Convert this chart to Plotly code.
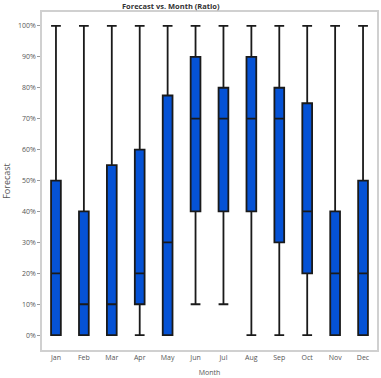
import plotly.graph_objects as go

months = ["Jan", "Feb", "Mar", "Apr", "May", "Jun", "Jul", "Aug", "Sep", "Oct", "Nov", "Dec"]
lower = [0, 0, 0, 0, 0, 0.10, 0.10, 0, 0, 0, 0, 0]
q1 = [0, 0, 0, 0.10, 0, 0.40, 0.40, 0.40, 0.30, 0.20, 0, 0]
median = [0.20, 0.10, 0.10, 0.20, 0.30, 0.70, 0.70, 0.70, 0.70, 0.40, 0.20, 0.20]
q3 = [0.50, 0.40, 0.55, 0.60, 0.775, 0.90, 0.80, 0.90, 0.80, 0.75, 0.40, 0.50]
upper = [1, 1, 1, 1, 1, 1, 1, 1, 1, 1, 1, 1]
yticks = [0, 0.1, 0.2, 0.3, 0.4, 0.5, 0.6, 0.7, 0.8, 0.9, 1.0]
ytick_text = ["0%", "10%", "20%", "30%", "40%", "50%", "60%", "70%", "80%", "90%", "100%"]

fig = go.Figure()
fig.add_trace(go.Box(
    x=months, q1=q1, median=median, q3=q3,
    lowerfence=lower, upperfence=upper,
    fillcolor="#0552D5",
    line=dict(color="#1a1a1a", width=1.8),
    whiskerwidth=1,
    boxpoints=False,
    hoverinfo="skip",
    showlegend=False,
))

font = "Open Sans, Noto Sans, sans-serif"
fig.update_layout(
    width=381, height=378,
    margin=dict(l=42, r=2, t=12, b=24),
    paper_bgcolor="white", plot_bgcolor="white",
    boxgap=0.5,
    font=dict(family=font, size=7, color="#555555"),
    showlegend=False,
    annotations=[dict(
        text="<b>Forecast vs. Month (Ratio)</b>", xref="paper", yref="paper",
        x=0.386, y=1, xanchor="center", yanchor="bottom", showarrow=False,
        borderpad=0, yshift=0,
        font=dict(size=7.5, color="#333333", family=font),
    )],
)
fig.update_xaxes(
    range=[-0.5, 11.5], showline=True, linecolor="#d0d0d0", linewidth=1.5, mirror=True,
    ticks="", showgrid=False, tickfont=dict(size=7, color="#555555"),
    title=dict(text="Month", font=dict(size=7, color="#555555"), standoff=9),
)
fig.update_yaxes(
    range=[-0.048, 1.045], tickvals=yticks, ticktext=ytick_text,
    showline=True, linecolor="#d0d0d0", linewidth=1.5, mirror=True,
    ticks="outside", ticklen=3, tickcolor="#999999", showgrid=False, zeroline=False,
    tickfont=dict(size=7, color="#555555"),
    title=dict(text="Forecast", font=dict(size=9, color="#555555"), standoff=10),
)

fig.write_html("out.html")
